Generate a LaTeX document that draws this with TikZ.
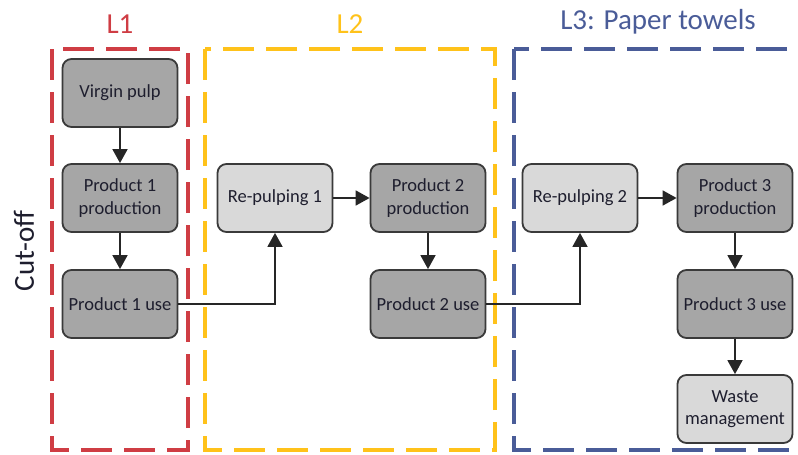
\documentclass[tikz,border=0pt]{standalone}
\usepackage{fontspec}
\setmainfont{Carlito}
\usetikzlibrary{arrows.meta}
\definecolor{lred}{HTML}{CF3D44}
\definecolor{lgold}{HTML}{FFC21A}
\definecolor{lblue}{HTML}{4A5C98}
\definecolor{darkfill}{HTML}{A6A6A6}
\definecolor{lightfill}{HTML}{D9D9D9}
\definecolor{edge}{HTML}{3A3A3A}
\definecolor{ink}{HTML}{1E1E2E}
\tikzset{
  stage/.style={draw=edge, line width=1.8pt, rounded corners=9pt,
    minimum width=115pt, minimum height=68pt, inner sep=2pt,
    align=center, text=ink, font=\fontsize{18.5}{22.5}\selectfont},
  darkstage/.style={stage, fill=darkfill},
  lightstage/.style={stage, fill=lightfill},
  flow/.style={draw=black!85, line width=1.7pt,
    -{Triangle[length=14pt,width=15pt]}},
  group/.style={line width=3.4pt, dash pattern=on 31pt off 12pt},
  grouptitle/.style={font=\fontsize{29}{34}\selectfont},
}
\begin{document}
\begin{tikzpicture}[x=1pt,y=1pt]
\useasboundingbox (0,0) rectangle (798,-455);
\clip (0,0) rectangle (798,-455);

% life-cycle groups
\draw[group, lred]  (52,-49) rectangle (188,-450);
\draw[group, lgold] (205,-49) rectangle (495,-450);
\draw[group, lblue] (514,-49) rectangle (830,-450);

\node[grouptitle, text=lred]  (t1) at (120,-24) {L1};
\node[grouptitle, text=lgold] (t2) at (350,-24) {L2};
\node[grouptitle, text=lblue] (t3) at (658,-22) {L3: Paper towels};
\node[grouptitle, text=ink, rotate=90] (cut) at (24,-251) {Cut-off};

% process stages
\node[darkstage]  (vp)  at (120,-93)  {Virgin pulp};
\node[darkstage]  (p1p) at (120,-198) {Product 1\\production};
\node[darkstage]  (p1u) at (120,-304) {Product 1 use};
\node[lightstage] (rp1) at (275,-198) {Re-pulping 1};
\node[darkstage]  (p2p) at (428,-198) {Product 2\\production};
\node[darkstage]  (p2u) at (428,-304) {Product 2 use};
\node[lightstage] (rp2) at (580,-198) {Re-pulping 2};
\node[darkstage]  (p3p) at (735,-198) {Product 3\\production};
\node[darkstage]  (p3u) at (735,-304) {Product 3 use};
\node[lightstage] (wm)  at (735,-409) {Waste\\management};

% material flows
\draw[flow] (vp) -- (p1p);
\draw[flow] (p1p) -- (p1u);
\draw[flow] (p1u.east) -| (rp1.south);
\draw[flow] (rp1) -- (p2p);
\draw[flow] (p2p) -- (p2u);
\draw[flow] (p2u.east) -| (rp2.south);
\draw[flow] (rp2) -- (p3p);
\draw[flow] (p3p) -- (p3u);
\draw[flow] (p3u) -- (wm);
\end{tikzpicture}
\end{document}
